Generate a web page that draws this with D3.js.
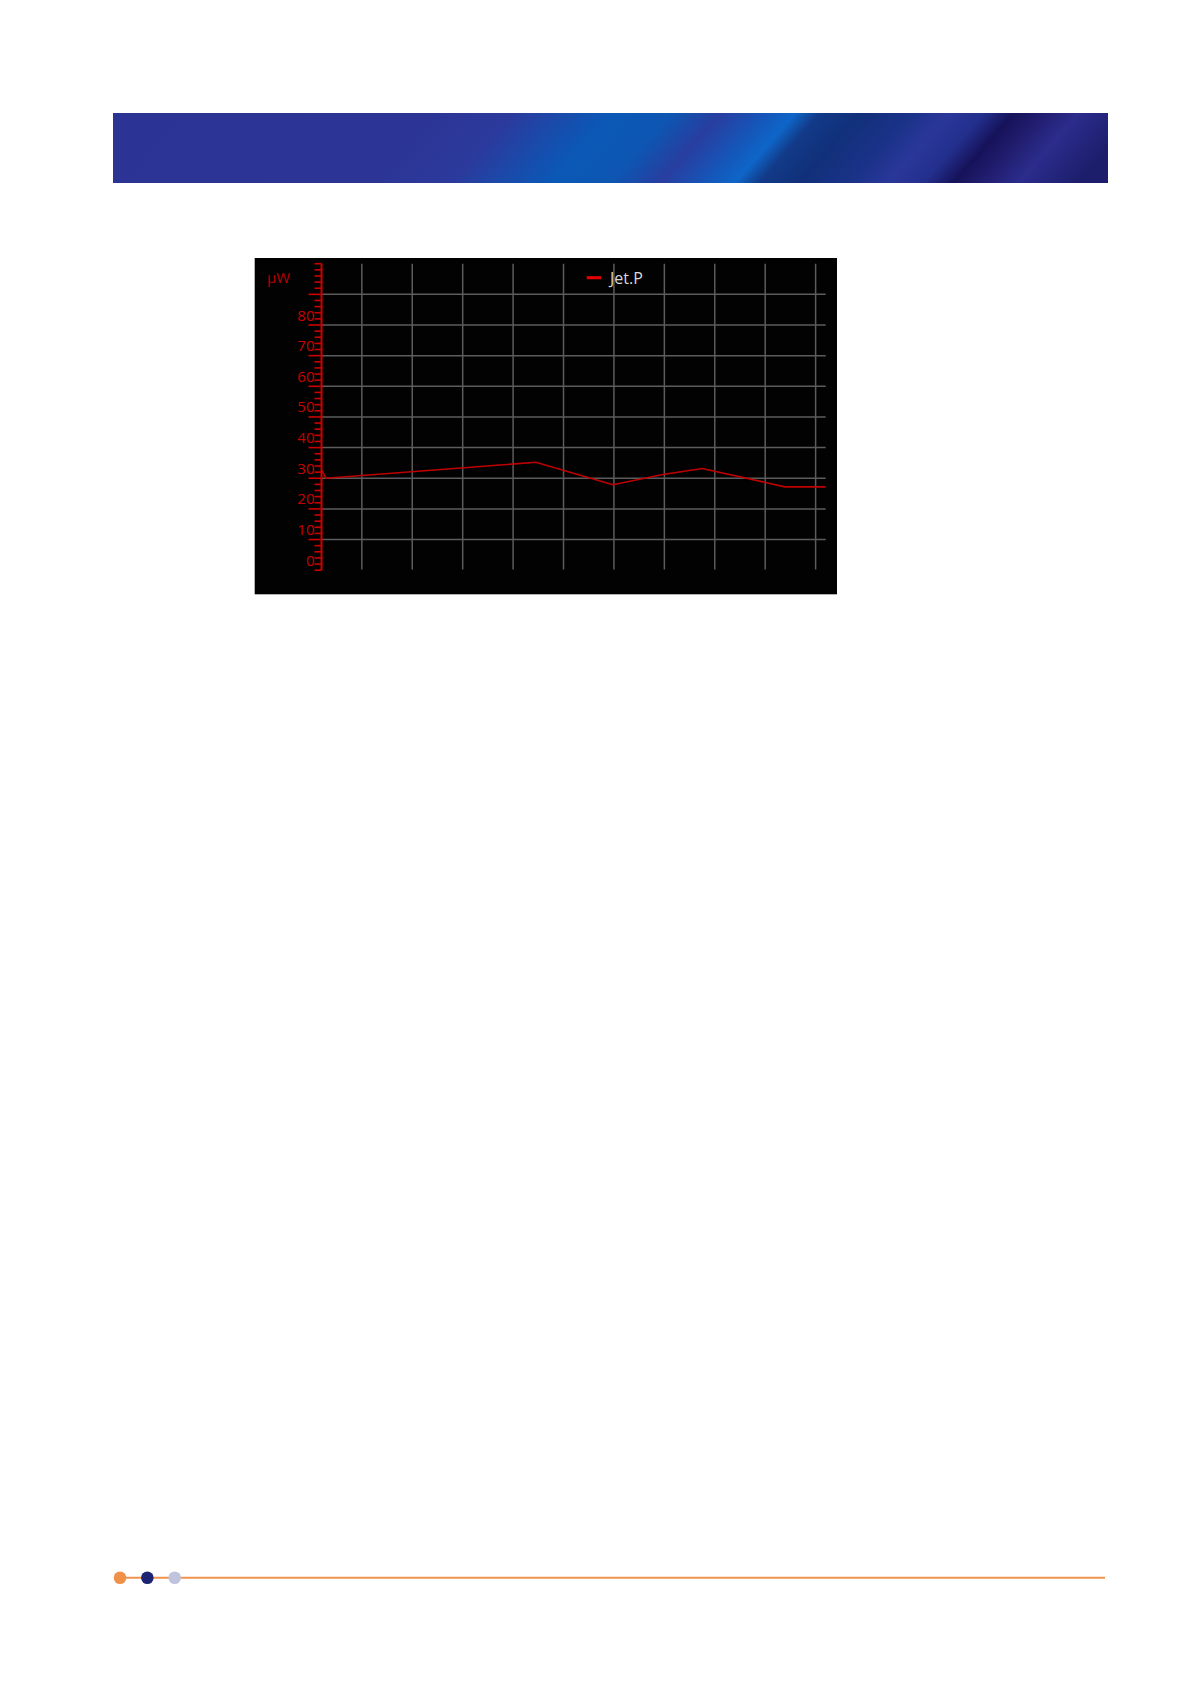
<!DOCTYPE html>
<html>
<head>
<meta charset="utf-8">
<script src="https://cdn.jsdelivr.net/npm/d3@7"></script>
<style>
  body { margin: 0; background: #ffffff; }
  svg { display: block; }
</style>
</head>
<body>
<div id="page"></div>
<script>
// data
var seriesName = "Jet.P";
var unitLabel = "µW";
var timeValues = [0, 0.9, 42.5, 57.8, 67.7, 75.5, 91.9, 100];
var powerValues = [32.7, 30.0, 35.2, 27.9, 31.2, 33.2, 27.2, 27.2];
var yTickValues = [0, 10, 20, 30, 40, 50, 60, 70, 80];
var yGridValues = [10, 20, 30, 40, 50, 60, 70, 80, 90];
var yMinorValues = d3.range(0, 101, 2);
var xGridValues = [8, 18, 28, 38, 48, 58, 68, 78, 88, 98];

var W = 1190, H = 1684;

var svg = d3.select("#page")
  .append("svg")
  .attr("width", W)
  .attr("height", H);

// header banner, streaks slanted like the original artwork
var bx = 113, by = 113, bw = 995, bh = 70;
var defs = svg.append("defs");
var grad = defs.append("linearGradient")
  .attr("id", "banner")
  .attr("gradientUnits", "userSpaceOnUse")
  .attr("x1", bx).attr("y1", 0)
  .attr("x2", bx + bw).attr("y2", 0)
  .attr("gradientTransform", "translate(0," + (by + bh / 2) + ") skewX(-41) translate(0," + (-(by + bh / 2)) + ")");
[
  [0, "#2b3494"], [0.29, "#2c3596"], [0.37, "#2b3a9c"], [0.42, "#1a4aaa"],
  [0.47, "#0b58b6"], [0.53, "#0d56b2"], [0.58, "#283ea0"], [0.63, "#1458bb"],
  [0.655, "#0e66c8"], [0.68, "#123a88"], [0.72, "#11307a"], [0.77, "#1a3288"],
  [0.81, "#2a379a"], [0.845, "#232f8c"], [0.875, "#16125a"], [0.9, "#201c6c"],
  [0.94, "#2b2c8c"], [1, "#1c1e6c"]
].forEach(function(s) {
  grad.append("stop").attr("offset", s[0]).attr("stop-color", s[1]);
});

svg.append("rect")
  .attr("x", bx).attr("y", by)
  .attr("width", bw).attr("height", bh)
  .attr("fill", "url(#banner)");

// chart panel
svg.append("rect")
  .attr("x", 254.7).attr("y", 258)
  .attr("width", 582.3).attr("height", 336.3)
  .attr("fill", "#020202");

var x = d3.scaleLinear().domain([0, 100]).range([321.5, 825.7]);
var y = d3.scaleLinear().domain([0, 100]).range([570.2, 263.7]);

var chart = svg.append("g");

// grid
chart.selectAll("line.vgrid")
  .data(xGridValues)
  .enter()
  .append("line")
  .attr("class", "vgrid")
  .attr("x1", function(d) { return x(d); })
  .attr("x2", function(d) { return x(d); })
  .attr("y1", y(100))
  .attr("y2", y(0) - 0.8)
  .attr("stroke", "#5c5c5c")
  .attr("stroke-width", 1.5);

chart.selectAll("line.hgrid")
  .data(yGridValues)
  .enter()
  .append("line")
  .attr("class", "hgrid")
  .attr("x1", x(0))
  .attr("x2", x(100))
  .attr("y1", function(d) { return y(d); })
  .attr("y2", function(d) { return y(d); })
  .attr("stroke", "#5c5c5c")
  .attr("stroke-width", 1.5);

// y axis: minor ticks every 2, long ones at the grid lines
chart.selectAll("line.minor")
  .data(yMinorValues)
  .enter()
  .append("line")
  .attr("class", "minor")
  .attr("x1", function(d) { return yGridValues.indexOf(d) >= 0 ? x(0) - 13 : x(0) - 7; })
  .attr("x2", x(0))
  .attr("y1", function(d) { return y(d); })
  .attr("y2", function(d) { return y(d); })
  .attr("stroke", "#cc0000")
  .attr("stroke-width", 1.6);

chart.append("line")
  .attr("x1", x(0)).attr("x2", x(0))
  .attr("y1", y(100)).attr("y2", y(0))
  .attr("stroke", "#cc0000")
  .attr("stroke-width", 2);

chart.selectAll("text.ytick")
  .data(yTickValues)
  .enter()
  .append("text")
  .attr("class", "ytick")
  .text(function(d) { return d; })
  .attr("x", x(0) - 7)
  .attr("y", function(d) { return y(d) - 4.5; })
  .attr("text-anchor", "end")
  .attr("font-family", "Open Sans, sans-serif")
  .attr("font-size", "15px")
  .attr("fill", "#c80000");

chart.append("text")
  .text(unitLabel)
  .attr("x", 267)
  .attr("y", 282.5)
  .attr("font-family", "Open Sans, sans-serif")
  .attr("font-size", "15px")
  .attr("fill", "#b80000");

// legend
chart.append("line")
  .attr("x1", 586.7).attr("x2", 601)
  .attr("y1", 277.7).attr("y2", 277.7)
  .attr("stroke", "#e00000")
  .attr("stroke-width", 3.2);
chart.append("text")
  .text(seriesName)
  .attr("x", 610)
  .attr("y", 284.3)
  .attr("font-family", "Open Sans, sans-serif")
  .attr("font-size", "16px")
  .attr("fill", "#d8d8d8");

// series line
var points = timeValues.map(function(t, i) { return [t, powerValues[i]]; });
var line = d3.line()
  .x(function(d) { return x(d[0]); })
  .y(function(d) { return y(d[1]); });

chart.append("path")
  .datum(points)
  .attr("d", line)
  .attr("fill", "none")
  .attr("stroke", "#c00000")
  .attr("stroke-width", 1.6);

// footer rule with dots
var footY = 1577.7;
svg.append("line")
  .attr("x1", 120).attr("x2", 1105)
  .attr("y1", footY).attr("y2", footY)
  .attr("stroke", "#f0934c")
  .attr("stroke-width", 2);

svg.selectAll("circle.dot")
  .data(["#f0914a", "#1c2473", "#c0c3dd"])
  .enter()
  .append("circle")
  .attr("class", "dot")
  .attr("cx", function(d, i) { return 120 + i * 27.35; })
  .attr("cy", footY)
  .attr("r", 6.3)
  .attr("fill", function(d) { return d; });
</script>
</body>
</html>
